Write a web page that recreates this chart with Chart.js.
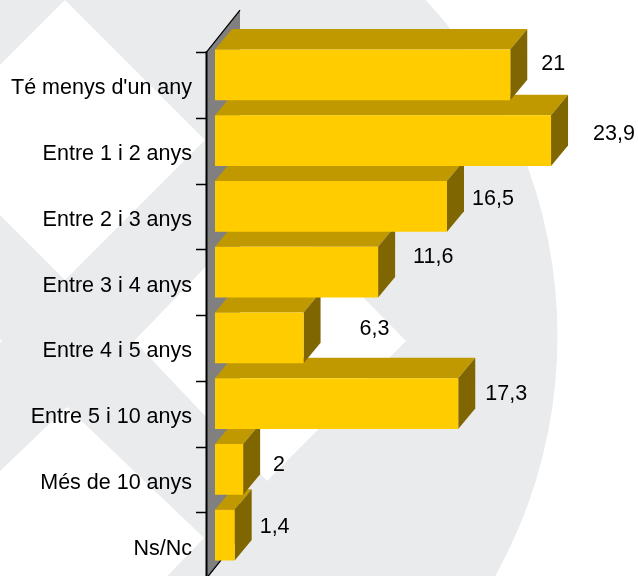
<!DOCTYPE html>
<html lang="ca">
<head>
<meta charset="utf-8">
<title>Antiguitat</title>
<style>
html,body{margin:0;padding:0;background:#fff}
#wrap{position:relative;width:638px;height:576px;overflow:hidden}
canvas{display:block}
</style>
<script src="https://cdn.jsdelivr.net/npm/chart.js@4/dist/chart.umd.min.js"></script>
</head>
<body>
<div id="wrap"><canvas id="c" width="638" height="576"></canvas></div>
<script>
const categories = ["Té menys d'un any","Entre 1 i 2 anys","Entre 2 i 3 anys","Entre 3 i 4 anys","Entre 4 i 5 anys","Entre 5 i 10 anys","Més de 10 anys","Ns/Nc"];
const values = [21, 23.9, 16.5, 11.6, 6.3, 17.3, 2, 1.4];
// Hand placement of each value label, relative to the end / centre of its bar
const labelGapX = [31, 42, 25, 35, 56, 27, 30, 25];
const labelShiftY = [-10.5, -7, -7, -15.5, -9, -10, -4, -8];

const FONT_FAMILY = '"Liberation Sans", Arial, sans-serif';
const FONT_SIZE = 21.5;
const COL_FRONT = '#FFCC00', COL_TOP = '#C09900', COL_SIDE = '#806600';
const COL_WALL = '#808080', COL_BG = '#EAEBED';
const DEPTH_X = 17, DEPTH_Y = 20.5;      // bar extrusion
const WALL_X = 33, WALL_Y = 42;          // back wall extrusion
const AXIS_GAP = 8, BAND_SHIFT = 10.2;   // axis plane relative to the bars
const PLOT_TOP = 42, PLOT_BOTTOM = 568;

function poly(ctx, pts, fill){
  ctx.beginPath();
  pts.forEach((p,i)=> i ? ctx.lineTo(p[0],p[1]) : ctx.moveTo(p[0],p[1]));
  ctx.closePath();
  ctx.fillStyle = fill;
  ctx.fill();
}

const fixPlot = {
  id:'fixPlot',
  afterLayout(chart){
    const y = chart.scales.y, x = chart.scales.x;
    [y, x, chart.chartArea].forEach(b=>{ b.top = PLOT_TOP; b.bottom = PLOT_BOTTOM; b.height = PLOT_BOTTOM-PLOT_TOP; });
    y.configure();
    x.configure();
  }
};

const backdrop = {
  id:'backdrop',
  beforeDraw(chart){
    const ctx = chart.ctx;
    ctx.save();
    ctx.fillStyle = '#fff';
    ctx.fillRect(0,0,chart.width,chart.height);
    ctx.beginPath();
    ctx.arc(63.5,336,494,0,Math.PI*2);
    ctx.fillStyle = COL_BG;
    ctx.fill();
    poly(ctx,[[65,0],[205,140],[65,280],[-75,140]],'#fff');
    poly(ctx,[[269,201],[406,341],[267,481],[134,341]],'#fff');
    poly(ctx,[[67,407],[204,538],[67,680],[-70,538]],'#fff');
    poly(ctx,[[-135,201],[2,341],[-135,481]],'#fff');
    ctx.restore();
  }
};

const bars3d = {
  id:'bars3d',
  beforeDatasetsDraw(chart){
    const ctx = chart.ctx, meta = chart.getDatasetMeta(0), y = chart.scales.y;
    const band = y.getPixelForValue(1) - y.getPixelForValue(0);
    const baseX = chart.scales.x.getPixelForValue(0);
    const axisX = baseX - AXIS_GAP;
    const top = y.getPixelForValue(0) - band/2 + BAND_SHIFT;
    const bottom = y.getPixelForValue(categories.length-1) + band/2 + BAND_SHIFT;
    ctx.save();
    // back wall
    poly(ctx,[[axisX,top],[axisX+WALL_X,top-WALL_Y],[axisX+WALL_X,bottom-WALL_Y],[axisX,bottom]],COL_WALL);
    // axis lines and ticks
    ctx.strokeStyle = '#000';
    ctx.lineWidth = 2;
    ctx.beginPath();
    ctx.moveTo(axisX-0.5,top-1); ctx.lineTo(axisX-0.5,bottom+2);
    ctx.stroke();
    ctx.lineWidth = 1.3;
    ctx.beginPath();
    ctx.moveTo(axisX-0.5,top); ctx.lineTo(axisX+WALL_X,top-WALL_Y);
    ctx.moveTo(axisX-0.5,bottom); ctx.lineTo(axisX+14,bottom-18);
    for(let i=0;i<categories.length;i++){
      const ty = Math.round(y.getPixelForValue(i) - band/2 + BAND_SHIFT)+0.5;
      ctx.moveTo(axisX-11,ty); ctx.lineTo(axisX,ty);
    }
    ctx.stroke();
    // extruded faces, back bars first so that upper bars overlap them
    for(let i=meta.data.length-1;i>=0;i--){
      const p = meta.data[i].getProps(['x','y','base','height'],true);
      const t = p.y - p.height/2, b = p.y + p.height/2;
      poly(ctx,[[p.base,t],[p.base+DEPTH_X,t-DEPTH_Y],[p.x+DEPTH_X,t-DEPTH_Y],[p.x,t]],COL_TOP);
      poly(ctx,[[p.x,t],[p.x+DEPTH_X,t-DEPTH_Y],[p.x+DEPTH_X,b-DEPTH_Y],[p.x,b]],COL_SIDE);
    }
    ctx.restore();
  },
  afterDatasetsDraw(chart){
    const ctx = chart.ctx, meta = chart.getDatasetMeta(0);
    ctx.save();
    ctx.font = FONT_SIZE+'px '+FONT_FAMILY;
    ctx.fillStyle = '#000';
    ctx.textAlign = 'left';
    ctx.textBaseline = 'middle';
    meta.data.forEach((el,i)=>{
      const p = el.getProps(['x','y'],true);
      ctx.fillText(String(values[i]).replace('.',','), p.x+labelGapX[i], p.y+labelShiftY[i]);
    });
    ctx.restore();
  }
};

new Chart(document.getElementById('c'),{
  type:'bar',
  data:{labels:categories,datasets:[{data:values,backgroundColor:COL_FRONT,borderWidth:0,barPercentage:0.775,categoryPercentage:1}]},
  plugins:[fixPlot,backdrop,bars3d],
  options:{
    indexAxis:'y',
    responsive:false,
    animation:false,
    layout:{autoPadding:false,padding:{top:42,bottom:8,left:0,right:1.2}},
    plugins:{legend:{display:false},tooltip:{enabled:false},title:{display:false}},
    scales:{
      x:{display:false,min:0,max:30},
      y:{
        afterFit(s){s.width=215;},
        border:{display:false},
        grid:{display:false},
        ticks:{color:'#000',font:{family:FONT_FAMILY,size:FONT_SIZE},padding:15,labelOffset:13.5,autoSkip:false,maxRotation:0}
      }
    }
  }
});
</script>
</body>
</html>
